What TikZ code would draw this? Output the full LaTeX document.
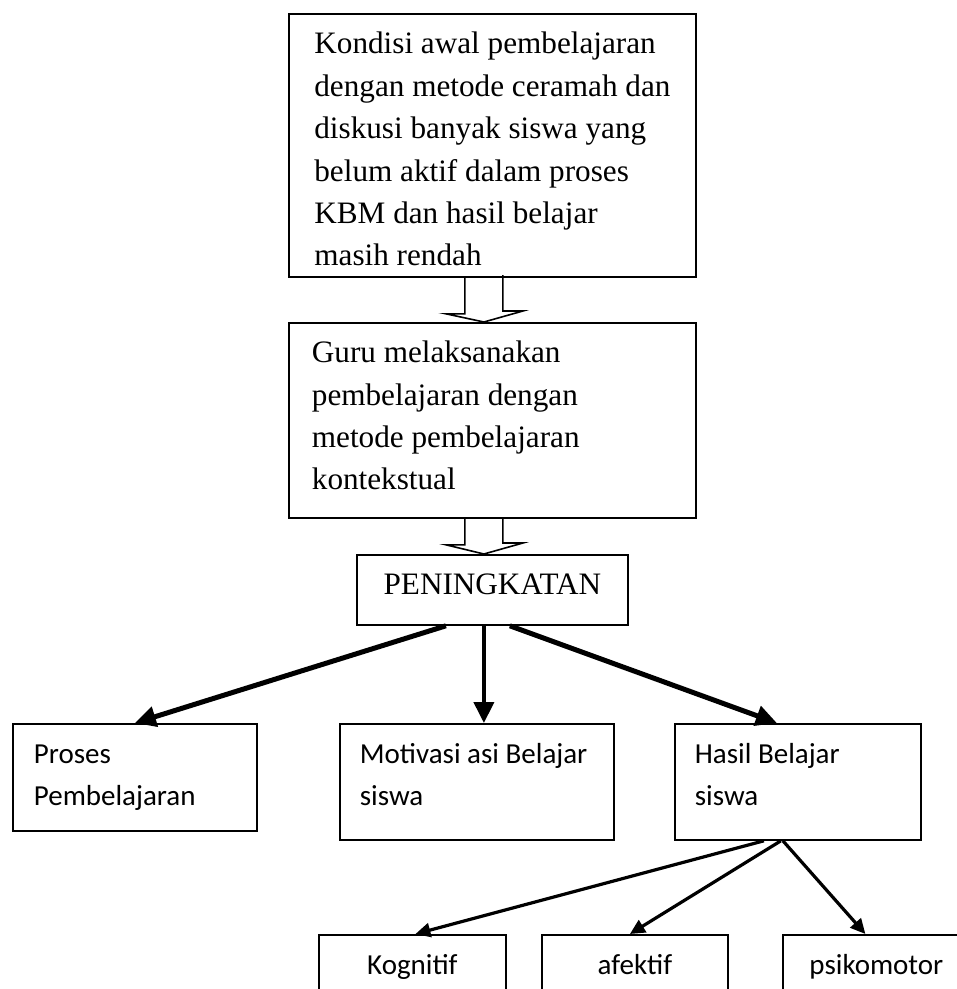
\documentclass[tikz,border=0pt]{standalone}
\usepackage{fontspec}
\setmainfont{Liberation Serif}
\setsansfont{Carlito}
\usetikzlibrary{arrows.meta}

\tikzset{
  kotak/.style={draw, line width=1.8pt, anchor=north west, align=flush left, inner ysep=0pt},
  kotaktengah/.style={draw, line width=1.8pt, anchor=north west, align=center, inner sep=0pt},
  serif/.style={font=\fontsize{31.2}{42.4}\selectfont},
  sans/.style={font=\sffamily\fontsize{29}{42}\selectfont},
  ranah/.style={kotaktengah, sans, minimum height=64pt, text height=21pt, text depth=5pt},
  panah/.style={line width=5pt, -{Triangle[length=21pt,width=20pt]}},
  panahkecil/.style={line width=3.2pt, -{Triangle[length=15pt,width=14pt]}},
  panahkosong/.style={line width=1.6pt, line join=miter}
}

\begin{document}
\begin{tikzpicture}[x=1pt, y=-1pt]
\useasboundingbox (0,0) rectangle (957,989);
\clip (0,0) rectangle (957,989);

% two boxes at the top, with a text in Times
\node[kotak, align=left, serif, minimum width=407pt, minimum height=263pt, inner xsep=0pt,
      text height=241pt, text depth=0pt] (kondisi) at (288,13)
  {Kondisi awal pembelajaran\\ dengan metode ceramah dan\\ diskusi banyak siswa yang\\
   belum aktif dalam proses\\ KBM dan hasil belajar\\ masih rendah};
\node[kotak, serif, minimum width=407pt, minimum height=195pt, text width=361pt,
      inner xsep=23pt, text depth=137pt] (guru) at (288,322)
  {Guru melaksanakan\\ pembelajaran dengan\\ metode pembelajaran\\ kontekstual};
\node[kotaktengah, serif, minimum width=271pt, minimum height=70pt,
      text depth=11pt] (peningkatan) at (356,554) {PENINGKATAN};

% hollow arrows between the boxes above
\draw[panahkosong] ([xshift=-27.5pt]kondisi.south) -- ++(0,36) -- ++(-19,0)
  -- ([xshift=-8.5pt]guru.north) -- ++(39,-11) -- ++(-20,0) -- ++(0,-36);
\draw[panahkosong] ([xshift=-27.5pt]guru.south) -- ++(0,26) -- ++(-19,0)
  -- ([xshift=-8.5pt]peningkatan.north) -- ++(39,-11) -- ++(-20,0) -- ++(0,-26);

% the three results, with a text in Calibri
\node[kotak, sans, minimum width=244pt, minimum height=107pt, text width=202pt,
      inner xsep=21pt] (proses) at (12,723) {Proses\\ Pembelajaran};
\node[kotak, sans, minimum width=274pt, minimum height=116pt, text width=234pt,
      inner xsep=20pt, text depth=56pt] (motivasi) at (339,723) {Motivasi asi Belajar\\ siswa};
\node[kotak, sans, minimum width=246pt, minimum height=116pt, text width=206pt,
      inner xsep=20pt, text depth=56pt] (hasil) at (674,723) {Hasil Belajar\\ siswa};

% the three domains of the learning result
\node[ranah, minimum width=187pt] (kognitif) at (318,934) {Kognitif};
\node[ranah, minimum width=186pt] (afektif) at (541,934) {afektif};
\node[ranah, minimum width=187pt] (psikomotor) at (782,934) {psikomotor};

% arrows
\draw[panah] ([xshift=-46.5pt]peningkatan.south) -- (proses.north);
\draw[panah, line width=4pt] ([xshift=-8.5pt]peningkatan.south) -- ([xshift=7pt]motivasi.north);
\draw[panah] ([xshift=17.5pt]peningkatan.south) -- ([xshift=-21pt]hasil.north);

\draw[panahkecil] ([xshift=-34pt]hasil.south) -- ([xshift=3pt]kognitif.north);
\draw[panahkecil] ([xshift=-17pt]hasil.south) -- ([xshift=-5pt]afektif.north);
\draw[panahkecil] ([xshift=-15pt]hasil.south) -- ([xshift=-11pt]psikomotor.north);
\end{tikzpicture}
\end{document}
